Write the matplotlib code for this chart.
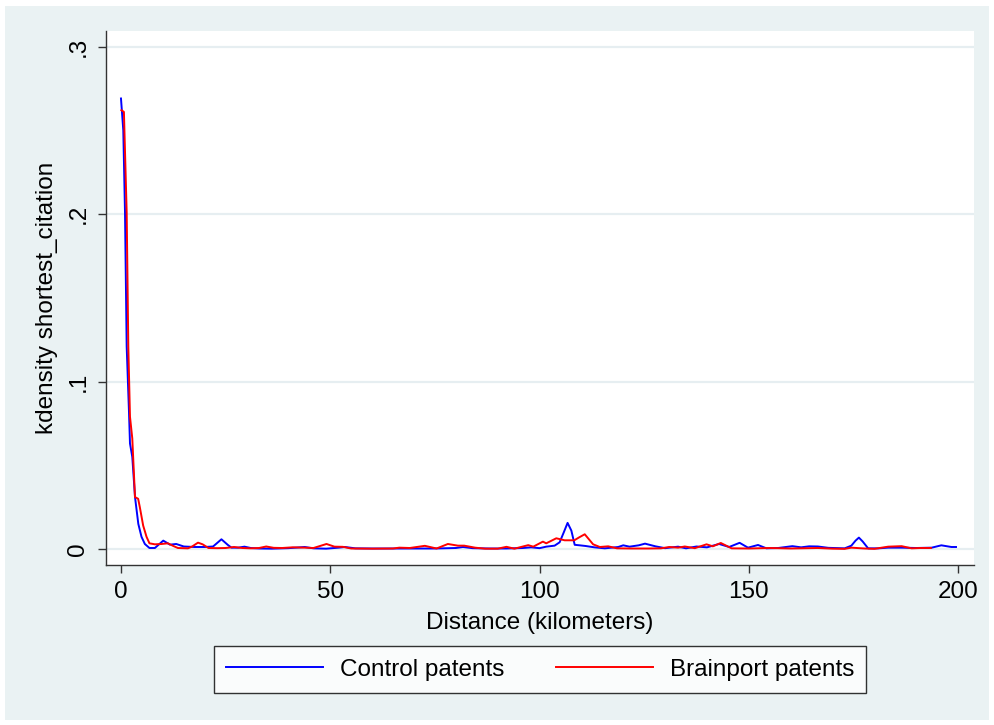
import matplotlib
matplotlib.use("Agg")
import matplotlib.pyplot as plt
from matplotlib.patches import Rectangle

plt.rcParams['font.family'] = ['Liberation Sans', 'DejaVu Sans']

# ---- data ----
control_x = [0.0, 0.55, 0.96, 1.36, 1.91, 2.15, 2.7, 3.35, 4.14, 4.9, 5.7, 6.8, 8.1, 10.1, 11.7,
             13.2, 15, 17.6, 20, 22, 24.0, 25.5, 26.4, 28, 29.5, 31, 33, 36, 40, 43.9, 46, 49,
             52, 53.5, 56, 60, 65, 70, 75, 80, 81.7, 84, 88, 92, 96, 98, 100, 101.6, 103.6,
             104.8, 105.8, 106.7, 107.6, 108.4, 109.6, 111.0, 113.1, 115.6, 118.8, 120, 121.5,
             123.7, 125.2, 127.7, 130, 133.1, 135, 137.5, 140, 142.9, 145.3, 147.8, 149.8,
             152.2, 154.2, 157, 160.4, 162.5, 164.4, 166.5, 169, 172.9, 174.5, 175.5, 176.3,
             177.2, 178.5, 181, 183.3, 186.5, 190, 193.7, 196.0, 198.4, 199.5]
control_y = [0.269, 0.250, 0.201, 0.121, 0.082, 0.063, 0.055, 0.031, 0.015, 0.0073, 0.0030,
             0.0006, 0.0006, 0.0050, 0.0026, 0.0030, 0.0015, 0.0012, 0.0012, 0.0015, 0.0058,
             0.0025, 0.0008, 0.0008, 0.0014, 0.0006, 0.0003, 0.0002, 0.0005, 0.0012, 0.0004,
             0.0002, 0.0008, 0.0012, 0.0004, 0.0003, 0.0003, 0.0003, 0.0003, 0.0006, 0.0012,
             0.0005, 0.0003, 0.0003, 0.0006, 0.0010, 0.0005, 0.0014, 0.0020, 0.0040, 0.0100,
             0.0156, 0.0110, 0.0025, 0.0022, 0.0018, 0.0010, 0.0004, 0.0012, 0.0022, 0.0014,
             0.0022, 0.0032, 0.0016, 0.0005, 0.0014, 0.0004, 0.0015, 0.0010, 0.0030, 0.0012,
             0.0037, 0.0008, 0.0024, 0.0004, 0.0006, 0.0017, 0.0010, 0.0016, 0.0015, 0.0007,
             0.0004, 0.0020, 0.0050, 0.0068, 0.0045, 0.0004, 0.0004, 0.0008, 0.0008, 0.0006,
             0.0008, 0.0022, 0.0012, 0.0012]

brain_x = [0.1, 0.7, 1.36, 1.75, 2.15, 2.7, 3.35, 4.1, 4.5, 5.3, 6.1, 6.8, 8.1, 9.7, 11.2, 12.5,
           13.6, 16, 17, 18.4, 19.5, 20.9, 23, 25, 27, 29, 31, 33, 34.7, 36.5, 38.5, 41, 44, 46,
           49.1, 51, 53, 55, 60, 65, 66.5, 69, 72.6, 75.4, 78.1, 80.5, 82, 84.6, 87, 90, 92.1, 94,
           97.3, 98.5, 100.8, 101.6, 104.0, 106, 108.3, 109.5, 110.8, 112.8, 114.4, 116.4, 118.5,
           122, 126, 129, 131, 133.1, 134.7, 137.1, 139.9, 141.4, 143.3, 145.9, 150, 155, 160,
           166.5, 170, 172.9, 174.5, 177.7, 180, 183.3, 186.5, 188.9, 191, 193.5]
brain_y = [0.262, 0.261, 0.201, 0.121, 0.079, 0.066, 0.031, 0.030, 0.025, 0.014, 0.0073, 0.0034,
           0.0028, 0.0030, 0.0034, 0.0018, 0.0006, 0.0004, 0.0015, 0.0038, 0.0028, 0.0006,
           0.0005, 0.0006, 0.0012, 0.0006, 0.0004, 0.0006, 0.0015, 0.0007, 0.0006, 0.0010,
           0.0008, 0.0006, 0.0030, 0.0014, 0.0013, 0.0003, 0.0002, 0.0003, 0.0008, 0.0006,
           0.0019, 0.0003, 0.0030, 0.0020, 0.0020, 0.0008, 0.0002, 0.0002, 0.0013, 0.0002,
           0.0023, 0.0014, 0.0044, 0.0034, 0.0064, 0.0052, 0.0052, 0.0070, 0.0088, 0.0028,
           0.0012, 0.0016, 0.0004, 0.0003, 0.0003, 0.0004, 0.0012, 0.0008, 0.0015, 0.0005,
           0.0028, 0.0016, 0.0036, 0.0004, 0.0003, 0.0006, 0.0003, 0.0006, 0.0002, 0.0001,
           0.0008, 0.0003, 0.0001, 0.0014, 0.0017, 0.0004, 0.0006, 0.0006]

x_ticks = [0, 50, 100, 150, 200]
y_ticks = [0, 0.1, 0.2, 0.3]
y_ticklabels = ["0", ".1", ".2", ".3"]
series_labels = ["Control patents", "Brainport patents"]
x_label = "Distance (kilometers)"
y_label = "kdensity shortest_citation"

# ---- figure ----
W, H = 994, 725
fig = plt.figure(figsize=(W / 100, H / 100), dpi=100)
fig.patch.set_facecolor('white')
bg = '#EAF2F3'
fig.patches.append(Rectangle((5 / W, 1 - 720 / H), 984 / W, 714 / H,
                             transform=fig.transFigure, facecolor=bg,
                             edgecolor='none', zorder=-10))

ax = fig.add_axes([106 / W, 1 - 565 / H, 868 / W, 534 / H])
ax.set_facecolor('white')

ax.plot(control_x, control_y, color='#0000FF', lw=1.4, label=series_labels[0], zorder=3)
ax.plot(brain_x, brain_y, color='#FF0000', lw=1.4, label=series_labels[1], zorder=4)

ax.set_xlim(-3.58, 203.8)
ax.set_ylim(-0.00955, 0.3093)

ax.set_xticks(x_ticks)
ax.set_yticks(y_ticks)
ax.set_yticklabels(y_ticklabels, rotation=90, va='center')
ax.tick_params(axis='both', direction='out', length=6, width=1, color='#333333',
               labelsize=17.5, labelcolor='black')
ax.tick_params(axis='x', pad=5.5)
ax.tick_params(axis='y', pad=6)

ax.grid(axis='y', color='#E6EEF1', lw=1.6)
ax.set_axisbelow(True)

for s in ['top', 'right']:
    ax.spines[s].set_visible(False)
for s in ['left', 'bottom']:
    ax.spines[s].set_color('#333333')
    ax.spines[s].set_linewidth(1)

ax.set_xlabel(x_label, fontsize=17.5, labelpad=6.5)
ax.set_ylabel(y_label, fontsize=17.5, labelpad=6.5)

leg = fig.legend(loc='center', bbox_to_anchor=(540 / W, 1 - 669.5 / H), ncol=2,
                 fontsize=17.5, frameon=True, fancybox=False, edgecolor='black',
                 facecolor='white', handlelength=4.0, handletextpad=0.7,
                 columnspacing=2.1, borderpad=0.5, borderaxespad=0)
leg.get_frame().set_linewidth(1)

fig.savefig('out.png', dpi=100, facecolor=fig.get_facecolor())
